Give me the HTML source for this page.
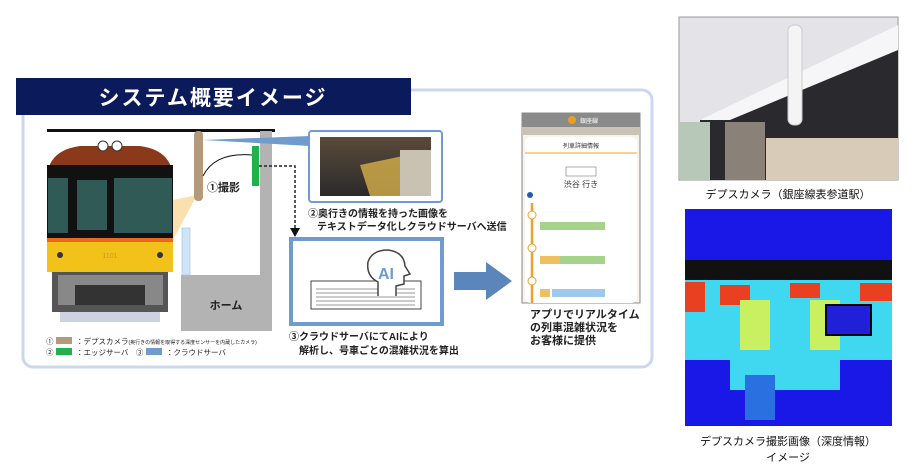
<!DOCTYPE html>
<html><head><meta charset="utf-8"><style>
body{margin:0;width:915px;height:469px;background:#fff;overflow:hidden;font-family:"Liberation Sans","Noto Sans CJK JP",sans-serif}
svg{position:absolute;left:0;top:0}
text{font-family:"Liberation Sans","Noto Sans CJK JP",sans-serif}
</style></head><body>
<svg width="915" height="469" viewBox="0 0 915 469">
<defs>
<linearGradient id="sky" x1="0" y1="0" x2="0" y2="1"><stop offset="0" stop-color="#5a4a3a"/><stop offset="1" stop-color="#2a2a2a"/></linearGradient>
</defs>
<!-- panel -->
<rect x="23" y="90" width="629" height="277" rx="10" fill="#fff" stroke="#c9d8ee" stroke-width="3"/>
<rect x="16" y="78" width="395" height="37" fill="#0b1a5a"/>
<text x="213" y="105" font-size="21" font-weight="bold" fill="#fff" text-anchor="middle" letter-spacing="2">システム概要イメージ</text>
<!-- rail line -->
<rect x="47" y="129" width="228" height="3" fill="#111"/>
<!-- platform -->
<rect x="260" y="131" width="12" height="200" fill="#b3b3b3"/>
<rect x="181" y="275" width="91" height="56" fill="#b3b3b3"/>
<text x="226" y="309" font-size="11" font-weight="bold" fill="#222" text-anchor="middle">ホーム</text>
<rect x="182" y="228" width="8" height="47" fill="#cfe4f7" stroke="#9fc2e3" stroke-width="0.6"/>
<!-- light cone -->
<polygon points="197,195 173,200 173,240" fill="#f9d89a" opacity="0.8"/>
<!-- pillar -->
<rect x="194" y="131" width="9" height="70" rx="4" fill="#b49a7a"/>
<path d="M203 176 Q215 152 252 155" fill="none" stroke="#111" stroke-width="1"/>
<text x="207" y="191" font-size="11" font-weight="bold" fill="#222">①撮影</text>
<rect x="252" y="146" width="7" height="40" fill="#1db24a"/>
<!-- blue beam -->
<polygon points="203,140 310,136 310,146" fill="#6f9bcf"/>
<!-- train -->
<path d="M47 175 Q50 150 80 146 L140 146 Q170 150 173 175 Z" fill="#8a3a1a"/>
<circle cx="103" cy="146" r="5" fill="#fff" stroke="#333"/><circle cx="117" cy="146" r="5" fill="#fff" stroke="#333"/>
<rect x="47" y="165" width="126" height="76" fill="#111"/>
<rect x="48" y="178" width="20" height="55" fill="#2f5a56"/>
<rect x="77" y="180" width="30" height="50" fill="#2f5a56"/>
<rect x="114" y="178" width="58" height="55" fill="#2f5a56"/>
<rect x="47" y="238" width="126" height="4" fill="#e86a1a"/>
<rect x="47" y="242" width="126" height="30" fill="#f2c21a"/>
<circle cx="60" cy="255" r="3" fill="#333"/><circle cx="160" cy="255" r="3" fill="#333"/>
<text x="110" y="258" font-size="7" fill="#c89a20" text-anchor="middle">1101</text>
<rect x="52" y="272" width="116" height="40" fill="#555"/>
<rect x="58" y="275" width="105" height="30" fill="#888"/>
<rect x="75" y="285" width="70" height="20" fill="#333"/>
<rect x="60" y="312" width="100" height="10" fill="#aab4ce" opacity="0.6"/>
<!-- legend -->
<text x="46" y="344" font-size="7.5" fill="#222">①</text>
<rect x="56" y="337" width="16" height="7" fill="#b49a7a"/>
<text x="76" y="344" font-size="7.5" fill="#222">：デプスカメラ<tspan font-size="5">(奥行きの情報を取得する深度センサーを内蔵したカメラ)</tspan></text>
<text x="46" y="355" font-size="7.5" fill="#222">②</text>
<rect x="56" y="348" width="16" height="7" fill="#1db24a"/>
<text x="76" y="355" font-size="7.5" fill="#222">：エッジサーバ　③</text>
<rect x="146" y="348" width="16" height="7" fill="#6f9bcf"/>
<text x="166" y="355" font-size="7.5" fill="#222">：クラウドサーバ</text>
<!-- dashed -->
<path d="M259 166 H295 V228" fill="none" stroke="#222" stroke-width="1.5" stroke-dasharray="3,2"/>
<polygon points="290,228 300,228 295,237" fill="#111"/>
<!-- thumbnail -->
<rect x="309" y="131" width="133" height="71" rx="3" fill="#fff" stroke="#6f9bcf" stroke-width="2"/>
<rect x="320" y="137" width="111" height="59" fill="url(#sky)"/>
<polygon points="360,165 431,150 431,196 370,196" fill="#d4b04a" opacity="0.8"/>
<rect x="400" y="150" width="31" height="46" fill="#c9c2b2"/>
<text x="308" y="217" font-size="10" font-weight="bold" fill="#222">②奥行きの情報を持った画像を</text>
<text x="317" y="230" font-size="10" font-weight="bold" fill="#222">テキストデータ化しクラウドサーバへ送信</text>
<!-- AI box -->
<rect x="291" y="239" width="151" height="85" fill="#fff" stroke="#6f9bcf" stroke-width="4"/>
<rect x="311" y="281" width="110" height="28" fill="#fff" stroke="#444" stroke-width="1"/>
<g stroke="#999" stroke-width="1"><line x1="316" y1="289" x2="415" y2="289"/><line x1="316" y1="293" x2="415" y2="293"/><line x1="316" y1="297" x2="415" y2="297"/><line x1="316" y1="301" x2="415" y2="301"/><line x1="316" y1="305" x2="415" y2="305"/></g>
<path d="M378 296 V282 Q366 276 368 262 Q372 250 388 250 Q404 252 405 266 L410 274 L404 276 V284 L396 286 V296" fill="#fff" stroke="#444" stroke-width="1.5"/>
<text x="386" y="279" font-size="16" font-weight="bold" fill="#6f9bcf" text-anchor="middle">AI</text>
<text x="289" y="340" font-size="10" font-weight="bold" fill="#222">③クラウドサーバにてAIにより</text>
<text x="299" y="354" font-size="10" font-weight="bold" fill="#222">解析し、号車ごとの混雑状況を算出</text>
<!-- arrow -->
<polygon points="454,272 486,272 486,262 512,281 486,300 486,290 454,290" fill="#5a86bb"/>
<!-- phone -->
<rect x="522" y="113" width="118" height="190" fill="#f7f2ea" stroke="#888" stroke-width="1"/>
<rect x="522" y="113" width="118" height="14" fill="#8a8a8a"/>
<circle cx="572" cy="120" r="4" fill="#e8a020"/>
<text x="580" y="123" font-size="6" fill="#fff">銀座線</text>
<rect x="522" y="127" width="118" height="8" fill="#c9c2b6"/>
<rect x="525" y="137" width="112" height="166" rx="5" fill="#fff"/>
<text x="581" y="148" font-size="6" fill="#333" text-anchor="middle">列車詳細情報</text>
<line x1="525" y1="153" x2="637" y2="153" stroke="#f0a030"/>
<rect x="566" y="167" width="30" height="9" fill="#fff" stroke="#777" stroke-width="0.6"/>
<text x="581" y="187" font-size="8" fill="#333" text-anchor="middle">渋谷 行き</text>
<circle cx="530" cy="195" r="3" fill="#2a5ab0"/>
<line x1="532" y1="203" x2="532" y2="303" stroke="#f0a030" stroke-width="2.5"/>
<g fill="#a6d38a"><rect x="540" y="222" width="65" height="8"/><rect x="540" y="256" width="65" height="8"/></g>
<g fill="#f0c060"><rect x="540" y="256" width="20" height="8"/><rect x="540" y="289" width="10" height="8"/></g>
<rect x="552" y="289" width="53" height="8" fill="#9fc8ef"/>
<circle cx="532" cy="215" r="4" fill="#fff" stroke="#f0a030"/><circle cx="532" cy="248" r="4" fill="#fff" stroke="#f0a030"/><circle cx="532" cy="281" r="4" fill="#fff" stroke="#f0a030"/>
<text x="530" y="318" font-size="11" font-weight="bold" fill="#222">アプリでリアルタイム</text>
<text x="530" y="331" font-size="11" font-weight="bold" fill="#222">の列車混雑状況を</text>
<text x="530" y="344" font-size="11" font-weight="bold" fill="#222">お客様に提供</text>
<!-- right photo -->
<rect x="679" y="17" width="219" height="163" fill="#e4e4e8" stroke="#999"/>
<polygon points="700,120 898,50 898,180 700,180" fill="#2a2a2e"/>
<polygon points="700,120 898,25 898,50 730,120" fill="#f6f6f8"/>
<rect x="788" y="25" width="14" height="100" rx="6" fill="#f4f4f4" stroke="#ccc"/>
<rect x="766" y="138" width="132" height="42" fill="#d8ccb8"/>
<rect x="725" y="122" width="40" height="58" fill="#8a8278"/>
<rect x="680" y="122" width="30" height="58" fill="#b8c8b8"/>
<text x="788" y="198" font-size="11" fill="#111" text-anchor="middle">デプスカメラ（銀座線表参道駅）</text>
<!-- depth -->
<rect x="685" y="209" width="207" height="217" fill="#1a18e6"/>
<rect x="685" y="260" width="207" height="22" fill="#111"/>
<rect x="685" y="280" width="207" height="80" fill="#40d8f0"/>
<rect x="685" y="282" width="20" height="30" fill="#e84020"/>
<rect x="720" y="285" width="30" height="20" fill="#e84020"/>
<rect x="790" y="283" width="30" height="15" fill="#e84020"/>
<rect x="860" y="283" width="32" height="18" fill="#e84020"/>
<rect x="740" y="300" width="30" height="60" fill="#c8f060"/>
<rect x="810" y="300" width="30" height="55" fill="#c8f060"/>
<rect x="826" y="305" width="45" height="30" fill="#2020d8" stroke="#000" stroke-width="2"/>
<rect x="685" y="360" width="207" height="66" fill="#1a18e6"/>
<rect x="730" y="350" width="110" height="40" fill="#40d8f0"/>
<rect x="745" y="375" width="30" height="45" fill="#2a70e0"/>
<text x="788" y="445" font-size="11" fill="#111" text-anchor="middle">デプスカメラ撮影画像（深度情報）</text>
<text x="788" y="461" font-size="11" fill="#111" text-anchor="middle">イメージ</text>
</svg>
</body></html>
